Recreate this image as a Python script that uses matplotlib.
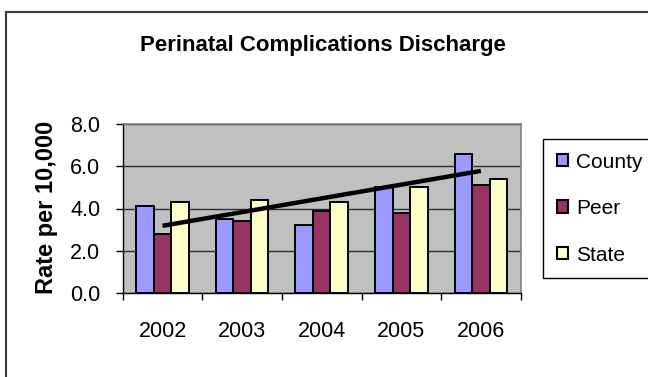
import matplotlib
matplotlib.use("Agg")
import matplotlib.pyplot as plt
from matplotlib.patches import Rectangle
import numpy as np

plt.rcParams['font.family'] = ['Liberation Sans', 'DejaVu Sans']

years = ["2002", "2003", "2004", "2005", "2006"]
county = [4.1, 3.5, 3.2, 5.0, 6.6]
peer = [2.8, 3.4, 3.9, 3.8, 5.1]
state = [4.3, 4.4, 4.3, 5.0, 5.4]
series_names = ["County", "Peer", "State"]
series_colors = ["#9999FF", "#993366", "#FFFFCC"]
y_ticks = [0.0, 2.0, 4.0, 6.0, 8.0]

W, H = 648, 377
fig = plt.figure(figsize=(W / 100, H / 100), dpi=100)
fig.patch.set_facecolor("white")

# chart frame
fig.patches.append(Rectangle((6 / W, -0.1), 1.2, 1 - 12 / H + 0.1,
                             transform=fig.transFigure, fill=False,
                             edgecolor="#3a3a3a", linewidth=1.5))

ax = fig.add_axes([122.7 / W, 1 - 293 / H, (520.7 - 122.7) / W, (293 - 124) / H])
ax.set_facecolor("#C0C0C0")

x = np.arange(len(years))
w = 0.22
for j, (vals, name, col) in enumerate(zip([county, peer, state], series_names, series_colors)):
    ax.bar(x + (j - 1) * w, vals, width=w, color=col, edgecolor="black",
           linewidth=1.4, label=name, zorder=3)

# linear trend of the County series
coef = np.polyfit(x, county, 1)
ax.plot(x, np.polyval(coef, x), color="black", linewidth=3.2, zorder=4,
        solid_capstyle="butt")

ax.set_xlim(-0.5, len(years) - 0.5)
ax.set_ylim(0, 8)
ax.set_yticks(y_ticks)
ax.set_yticklabels([f"{v:.1f}" for v in y_ticks])
ax.yaxis.grid(True, color="#303030", linewidth=1.0, zorder=1)
ax.set_axisbelow(True)

ax.set_xticks(x)
ax.set_xticklabels(years)
ax.set_xticks(np.arange(-0.5, len(years)), minor=True)
ax.tick_params(axis="x", which="major", length=0, pad=20, labelsize=15.5)
ax.tick_params(axis="x", which="minor", length=5, width=1, color="black")
ax.tick_params(axis="y", which="major", length=5, width=1, pad=11, labelsize=15.5)

for s in ["top", "right"]:
    ax.spines[s].set_color("#808080")
    ax.spines[s].set_linewidth(1.2)
for s in ["left", "bottom"]:
    ax.spines[s].set_color("black")
    ax.spines[s].set_linewidth(1.0)

fig.text(47 / W, 1 - 207.5 / H, "Rate per 10,000", rotation=90, ha="center",
         va="center", fontsize=17, fontweight="bold")
fig.text(323 / W, 1 - 51 / H, "Perinatal Complications Discharge", ha="center",
         va="baseline", fontsize=16, fontweight="bold")

leg = ax.legend(loc="upper left", bbox_to_anchor=(543 / W, 1 - 139 / H),
                bbox_transform=fig.transFigure, fontsize=15, frameon=True,
                fancybox=False, edgecolor="black", framealpha=1,
                handlelength=0.55, handleheight=0.55, handletextpad=0.4,
                labelspacing=1.32, borderpad=0.65, borderaxespad=0)
leg.get_frame().set_linewidth(1.0)
for h in leg.legend_handles:
    h.set_linewidth(1.5)

fig.savefig("out.png", dpi=100, facecolor="white")
